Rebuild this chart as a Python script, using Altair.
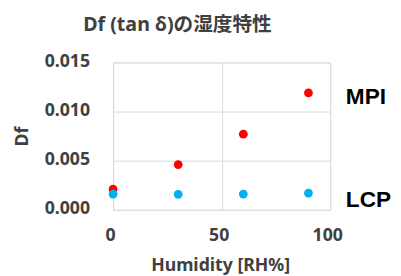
import altair as alt
import pandas as pd

humidity = [0, 30, 60, 90]
mpi_df = [0.0021, 0.0046, 0.0077, 0.0119]
lcp_df = [0.0016, 0.00157, 0.0016, 0.0017]

series_names = ["MPI", "LCP"]
series_colors = ["#FF0000", "#00B0F0"]
label_y = [0.01145, 0.00095]

title_text = "Df (tan δ)の湿度特性"
x_title = "Humidity [RH%]"
y_title = "Df"
x_ticks = [0, 50, 100]
y_ticks = [0.0, 0.005, 0.010, 0.015]

rows = []
for h, v in zip(humidity, mpi_df):
    rows.append({"humidity": h, "df": v, "series": "MPI"})
for h, v in zip(humidity, lcp_df):
    rows.append({"humidity": h, "df": v, "series": "LCP"})
points_df = pd.DataFrame(rows)
labels_df = pd.DataFrame({"series": series_names, "y": label_y})

FONT = "Noto Sans"
TFONT = "Noto Sans, Noto Sans CJK JP"
GRAY = "#404040"

color_scale = alt.Scale(domain=series_names, range=series_colors)

x_enc = alt.X(
    "humidity:Q",
    scale=alt.Scale(domain=[0, 100], nice=False),
    axis=alt.Axis(
        values=x_ticks, title=x_title, grid=True, ticks=False, tickSize=0, domain=False,
        labelFlush=False, labelOverlap=False,
        labelFont=FONT, labelFontSize=18, labelFontWeight="bold", labelColor=GRAY,
        labelPadding=26, labelBaseline="middle", labelOffset=-3,
        titleFont=FONT, titleFontSize=18, titleFontWeight="bold", titleColor=GRAY,
        titleBaseline="alphabetic", titleY=62, titleX=109,
        gridColor="#D9D9D9",
    ),
)
y_enc = alt.Y(
    "df:Q",
    scale=alt.Scale(domain=[0, 0.015], nice=False),
    axis=alt.Axis(
        values=y_ticks, format=".3f", title=y_title, grid=True, ticks=False, tickSize=0, domain=False,
        labelFlush=False, labelOverlap=False,
        labelFont=FONT, labelFontSize=18, labelFontWeight="bold", labelColor=GRAY,
        labelPadding=24, labelBaseline="middle", labelOffset=-1,
        titleFont=FONT, titleFontSize=18, titleFontWeight="bold", titleColor=GRAY,
        titleX=-92, titleY=75, titleAngle=270, titleBaseline="middle", titleAlign="center",
        gridColor="#D9D9D9",
    ),
)

points = alt.Chart(points_df).mark_circle(size=80, opacity=1).encode(
    x=x_enc,
    y=y_enc,
    color=alt.Color("series:N", scale=color_scale, legend=None),
)

labels = alt.Chart(labels_df).mark_text(
    align="left", baseline="middle", font="Liberation Sans", fontSize=23, fontWeight="bold",
    color="#000000", clip=False,
).encode(
    x=alt.value(237),
    y=alt.Y("y:Q", scale=alt.Scale(domain=[0, 0.015], nice=False)),
    text="series:N",
)

chart = alt.layer(points, labels).properties(
    width=221,
    height=150,
    title=alt.TitleParams(
        text=title_text, font=TFONT, fontSize=20, fontWeight="bold", color="#404040",
        anchor="middle", dx=-45, offset=18,
    ),
    autosize=alt.AutoSizeParams(type="none"),
    padding={"left": 107, "top": 53, "right": 64, "bottom": 65},
).configure_view(stroke="#D9D9D9").configure(background="white")

chart.save("out.html", embed_options={"renderer": "svg", "actions": False})
